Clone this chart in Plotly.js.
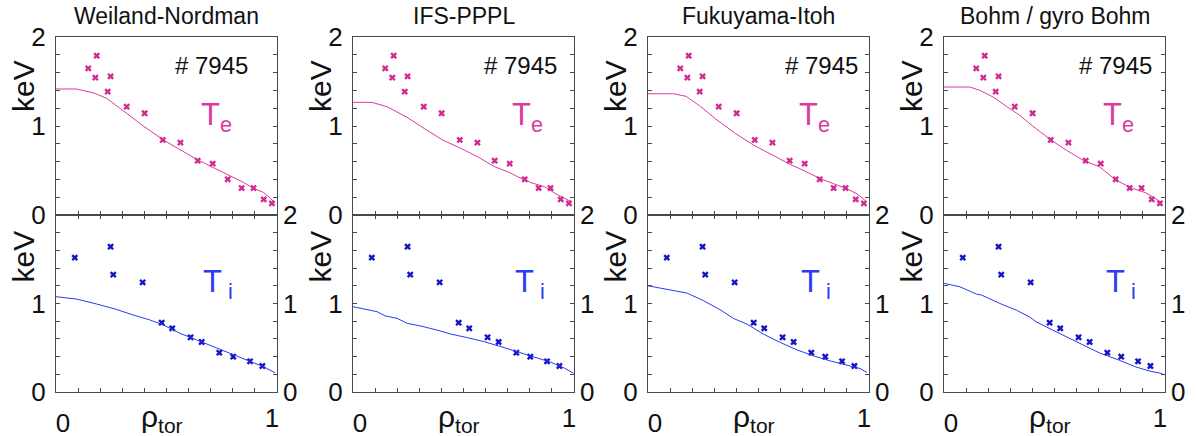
<!DOCTYPE html>
<html>
<head>
<meta charset="utf-8">
<script src="https://cdn.plot.ly/plotly-3.0.1.min.js"></script>
<style>html,body{margin:0;padding:0;background:#fff;}#chart{width:1196px;height:436px;}</style>
</head>
<body>
<div id="chart"></div>
<script>
// ---- data ----
const modelNames = ["Weiland-Nordman", "IFS-PPPL", "Fukuyama-Itoh", "Bohm / gyro Bohm"];
const shotLabel = "# 7945";

// experimental points (same shot for every model)
const teExpRho = [0.146, 0.184, 0.178, 0.247, 0.234, 0.320, 0.401, 0.483, 0.563, 0.641, 0.709, 0.777, 0.840, 0.894, 0.940, 0.977];
const teExpKeV = [1.648, 1.790, 1.543, 1.558, 1.386, 1.217, 1.143, 0.843, 0.813, 0.610, 0.577, 0.401, 0.303, 0.303, 0.176, 0.131];
const tiExpRho = [0.085, 0.247, 0.259, 0.392, 0.478, 0.526, 0.609, 0.659, 0.739, 0.802, 0.878, 0.934];
const tiExpKeV = [1.518, 1.642, 1.326, 1.239, 0.783, 0.720, 0.618, 0.565, 0.444, 0.399, 0.347, 0.294];

// model Te profiles
const teWN_rho = [0, 0.094, 0.176, 0.229, 0.320, 0.395, 0.486, 0.561, 0.637, 0.712, 0.787, 0.848, 0.893, 0.938, 0.971, 0.992];
const teWN_keV = [1.416, 1.416, 1.367, 1.311, 1.142, 1.000, 0.843, 0.730, 0.625, 0.532, 0.442, 0.367, 0.300, 0.255, 0.187, 0.131];
const teIFS_rho = [0, 0.086, 0.154, 0.207, 0.245, 0.321, 0.405, 0.488, 0.564, 0.639, 0.700, 0.745, 0.806, 0.866, 0.927, 0.988];
const teIFS_keV = [1.266, 1.266, 1.217, 1.142, 1.097, 0.974, 0.843, 0.749, 0.655, 0.543, 0.487, 0.430, 0.363, 0.318, 0.225, 0.150];
const teFI_rho = [0, 0.116, 0.173, 0.237, 0.312, 0.395, 0.478, 0.561, 0.636, 0.719, 0.780, 0.840, 0.900, 0.946, 0.983];
const teFI_keV = [1.362, 1.362, 1.333, 1.220, 1.068, 0.917, 0.785, 0.672, 0.578, 0.483, 0.408, 0.351, 0.294, 0.238, 0.162];
const teBgB_rho = [0, 0.117, 0.162, 0.222, 0.282, 0.342, 0.402, 0.485, 0.553, 0.628, 0.703, 0.778, 0.853, 0.913, 0.980];
const teBgB_keV = [1.438, 1.438, 1.401, 1.326, 1.222, 1.121, 0.998, 0.841, 0.729, 0.617, 0.542, 0.392, 0.299, 0.250, 0.149];

// model Ti profiles
const tiWN_rho = [0, 0.094, 0.184, 0.267, 0.350, 0.425, 0.486, 0.561, 0.637, 0.712, 0.787, 0.863, 0.938, 0.991];
const tiWN_keV = [1.077, 1.050, 0.994, 0.938, 0.870, 0.814, 0.757, 0.663, 0.588, 0.512, 0.437, 0.362, 0.286, 0.218];
const tiIFS_rho = [0, 0.064, 0.109, 0.147, 0.200, 0.245, 0.306, 0.380, 0.442, 0.518, 0.594, 0.670, 0.745, 0.820, 0.897, 0.958, 0.998];
const tiIFS_keV = [0.964, 0.927, 0.907, 0.859, 0.832, 0.776, 0.746, 0.700, 0.655, 0.614, 0.568, 0.512, 0.456, 0.399, 0.335, 0.268, 0.211];
const tiFI_rho = [0, 0.086, 0.176, 0.252, 0.327, 0.387, 0.448, 0.523, 0.599, 0.674, 0.749, 0.825, 0.900, 0.960, 0.991];
const tiFI_keV = [1.200, 1.163, 1.118, 1.031, 0.929, 0.831, 0.767, 0.653, 0.559, 0.476, 0.408, 0.351, 0.306, 0.265, 0.220];
const tiBgB_rho = [0, 0.072, 0.147, 0.170, 0.252, 0.327, 0.387, 0.417, 0.492, 0.568, 0.643, 0.703, 0.793, 0.868, 0.928, 0.988];
const tiBgB_keV = [1.228, 1.189, 1.106, 1.095, 1.001, 0.925, 0.849, 0.793, 0.699, 0.605, 0.510, 0.442, 0.359, 0.283, 0.238, 0.208];

const teModels = [[teWN_rho, teWN_keV], [teIFS_rho, teIFS_keV], [teFI_rho, teFI_keV], [teBgB_rho, teBgB_keV]];
const tiModels = [[tiWN_rho, tiWN_keV], [tiIFS_rho, tiIFS_keV], [tiFI_rho, tiFI_keV], [tiBgB_rho, tiBgB_keV]];

const yTopTicks = [0, 1, 2];
const yBotLeftTicks = [0, 1];
const yBotRightTicks = [0, 1, 2];

// ---- layout helpers ----
const W = 1196, H = 436;
const panelLeft = [56, 353, 648, 944];
const panelW = 221;
const yTopPx = 37, yMidPx = 215, yBotPx = 392;
const topDom = [1 - yMidPx / H, 1 - yTopPx / H];
const botDom = [1 - yBotPx / H, 1 - yMidPx / H];

const FONT = "Liberation Sans, Arial, sans-serif";
const MAG = "#dc3a9f", MAG_M = "#d12a93";
const BLU = "#2a3cef", BLU_M = "#1414c4";
const LINEC = "#4a4a4a";
const TICKSIZE = 26;

// label positions (domain x, data y)
const shotX = [0.88, 0.93, 0.96, 0.95];
const teLabX = [0.645, 0.71, 0.675, 0.71];
const tiLabX = [0.655, 0.725, 0.685, 0.725];

const data = [];
const layout = {
  width: W, height: H,
  margin: {l: 0, r: 0, t: 0, b: 0},
  paper_bgcolor: "#fff", plot_bgcolor: "#fff",
  showlegend: false,
  font: {family: FONT, size: 24, color: "#111"},
  annotations: []
};

function axName(prefix, n) { return n === 1 ? prefix : prefix + n; }
function layName(prefix, n) { return n === 1 ? prefix + "axis" : prefix + "axis" + n; }

const commonAx = {
  showgrid: false, zeroline: false, showline: true, linecolor: LINEC, linewidth: 1,
  ticks: "inside", ticklen: 4, tickcolor: LINEC, tickwidth: 1,
  tickfont: {family: FONT, size: TICKSIZE, color: "#111"}, fixedrange: true
};
const xMinor = {ticks: "inside", ticklen: 4, tickcolor: LINEC, tickwidth: 1, dtick: 0.1, tick0: 0, showgrid: false};
const yMinor = {ticks: "inside", ticklen: 4, tickcolor: LINEC, tickwidth: 1, dtick: 0.2, tick0: 0, showgrid: false};

for (let i = 0; i < 4; i++) {
  const a = 2 * i + 1, b = 2 * i + 2, r = 9 + i, xo = 13 + i;
  const dom = [panelLeft[i] / W, (panelLeft[i] + panelW) / W];

  // top panel axes
  layout[layName("x", a)] = Object.assign({}, commonAx, {
    domain: dom, anchor: axName("y", a), range: [0, 1],
    tickmode: "array", tickvals: [0, 1], showticklabels: false, mirror: true, minor: xMinor
  });
  layout[layName("y", a)] = Object.assign({}, commonAx, {
    domain: topDom, anchor: axName("x", a), range: [0, 2],
    tickmode: "array", tickvals: yTopTicks, ticktext: yTopTicks.map(String),
    mirror: "ticks", ticklabelstandoff: 4, minor: yMinor
  });
  // bottom panel axes
  layout[layName("x", b)] = Object.assign({}, commonAx, {
    domain: dom, anchor: axName("y", b), range: [0, 1],
    tickmode: "array", tickvals: [0], ticktext: ["0"],
    mirror: "ticks", ticklabelstandoff: 8, ticklabelshift: 7, minor: xMinor
  });
  layout[layName("x", xo)] = Object.assign({}, commonAx, {
    overlaying: axName("x", b), anchor: axName("y", r), side: "bottom", range: [0, 1],
    tickmode: "array", tickvals: [1], ticktext: ["1"], ticks: "", showline: false,
    ticklabelstandoff: 8, ticklabelshift: -5
  });
  layout[layName("y", b)] = Object.assign({}, commonAx, {
    domain: botDom, anchor: axName("x", b), range: [0, 2],
    tickmode: "array", tickvals: yBotLeftTicks, ticktext: yBotLeftTicks.map(String),
    mirror: "ticks", ticklabelstandoff: 4, minor: yMinor
  });
  layout[layName("y", r)] = Object.assign({}, commonAx, {
    overlaying: axName("y", b), anchor: axName("x", xo), side: "right", range: [0, 2],
    tickmode: "array", tickvals: yBotRightTicks, ticktext: yBotRightTicks.map(String),
    ticks: "", showline: false, ticklabelstandoff: 5
  });

  // traces
  data.push({x: teModels[i][0], y: teModels[i][1], xaxis: axName("x", a), yaxis: axName("y", a),
    type: "scatter", mode: "lines", line: {color: MAG, width: 1}, hoverinfo: "skip"});
  data.push({x: teExpRho, y: teExpKeV, xaxis: axName("x", a), yaxis: axName("y", a),
    type: "scatter", mode: "markers", marker: {symbol: "x", size: 6, color: MAG_M, line: {width: 0}}, hoverinfo: "skip"});
  data.push({x: tiModels[i][0], y: tiModels[i][1], xaxis: axName("x", xo), yaxis: axName("y", r),
    type: "scatter", mode: "lines", line: {color: BLU, width: 1}, hoverinfo: "skip"});
  data.push({x: tiExpRho, y: tiExpKeV, xaxis: axName("x", b), yaxis: axName("y", b),
    type: "scatter", mode: "markers", marker: {symbol: "x", size: 6, color: BLU_M, line: {width: 0}}, hoverinfo: "skip"});

  const xa = axName("x", a) + " domain", xb = axName("x", b) + " domain";
  // panel title
  layout.annotations.push({text: modelNames[i], xref: xa, yref: "paper", x: 0.5, y: 1 - 16 / H,
    xanchor: "center", yanchor: "middle", showarrow: false, font: {family: FONT, size: 23, color: "#111"}});
  // keV labels
  layout.annotations.push({text: "keV", xref: xa, yref: axName("y", a), x: -0.145, y: 1.45, textangle: -90,
    xanchor: "center", yanchor: "middle", showarrow: false, font: {family: FONT, size: 30, color: "#111"}});
  layout.annotations.push({text: "keV", xref: xb, yref: axName("y", b), x: -0.145, y: 1.53, textangle: -90,
    xanchor: "center", yanchor: "middle", showarrow: false, font: {family: FONT, size: 30, color: "#111"}});
  // shot number
  layout.annotations.push({text: shotLabel, xref: xa, yref: axName("y", a), x: shotX[i], y: 1.68,
    xanchor: "right", yanchor: "middle", showarrow: false, font: {family: FONT, size: 24, color: "#111"}});
  // Te / Ti
  layout.annotations.push({text: "T<sub>e</sub>", xref: xa, yref: axName("y", a), x: teLabX[i], y: 1.1,
    xanchor: "left", yanchor: "middle", showarrow: false, font: {family: FONT, size: 31, color: MAG}});
  layout.annotations.push({text: "T<sub> i</sub>", xref: xb, yref: axName("y", b), x: tiLabX[i], y: 1.22,
    xanchor: "left", yanchor: "middle", showarrow: false, font: {family: FONT, size: 31, color: BLU}});
  // rho_tor
  layout.annotations.push({text: "ρ<sub>tor</sub>", xref: xb, yref: "paper", x: 0.48, y: 1 - 418 / H,
    xanchor: "center", yanchor: "middle", showarrow: false, font: {family: FONT, size: 30, color: "#111"}});
}

Plotly.newPlot("chart", data, layout, {staticPlot: true, displayModeBar: false});
</script>
</body>
</html>
